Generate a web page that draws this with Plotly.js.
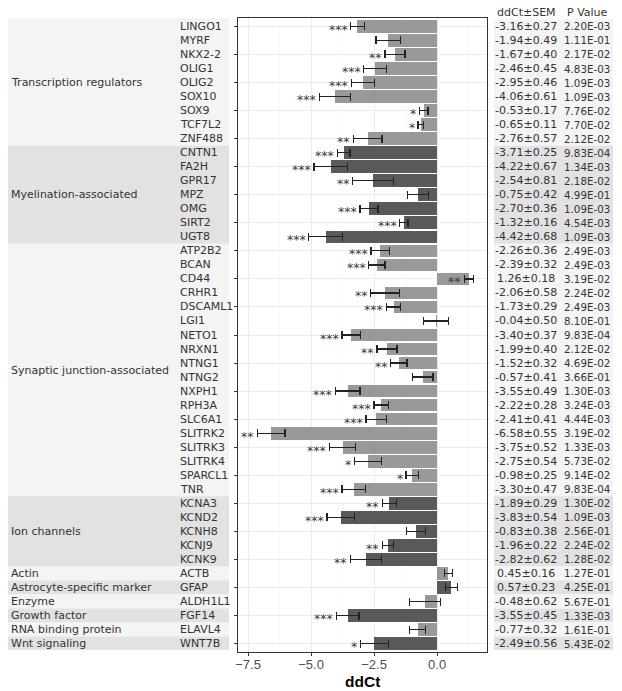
<!DOCTYPE html>
<html>
<head>
<meta charset="utf-8">
<script src="https://cdn.plot.ly/plotly-3.0.1.min.js"></script>
<style>body{margin:0;background:#fff}#chart{width:622px;height:691px}</style>
</head>
<body>
<div id="chart"></div>
<script>
// gene order, top to bottom
const genes = ["LINGO1","MYRF","NKX2-2","OLIG1","OLIG2","SOX10","SOX9","TCF7L2","ZNF488",
  "CNTN1","FA2H","GPR17","MPZ","OMG","SIRT2","UGT8",
  "ATP2B2","BCAN","CD44","CRHR1","DSCAML1","LGI1","NETO1","NRXN1","NTNG1","NTNG2","NXPH1","RPH3A","SLC6A1","SLITRK2","SLITRK3","SLITRK4","SPARCL1","TNR",
  "KCNA3","KCND2","KCNH8","KCNJ9","KCNK9",
  "ACTB","GFAP","ALDH1L1","FGF14","ELAVL4","WNT7B"];
const ddct = [-3.16,-1.94,-1.67,-2.46,-2.95,-4.06,-0.53,-0.65,-2.76,
  -3.71,-4.22,-2.54,-0.75,-2.70,-1.32,-4.42,
  -2.26,-2.39,1.26,-2.06,-1.73,-0.04,-3.40,-1.99,-1.52,-0.57,-3.55,-2.22,-2.41,-6.58,-3.75,-2.75,-0.98,-3.30,
  -1.89,-3.83,-0.83,-1.96,-2.82,
  0.45,0.57,-0.48,-3.55,-0.77,-2.49];
const sem = [0.27,0.49,0.40,0.45,0.46,0.61,0.17,0.11,0.57,
  0.25,0.67,0.81,0.42,0.36,0.16,0.68,
  0.36,0.32,0.18,0.58,0.29,0.50,0.37,0.40,0.32,0.41,0.49,0.28,0.41,0.55,0.52,0.54,0.25,0.47,
  0.29,0.54,0.38,0.22,0.62,
  0.16,0.23,0.62,0.45,0.32,0.56];
const pvals = ["2.20E-03","1.11E-01","2.17E-02","4.83E-03","1.09E-03","1.09E-03","7.76E-02","7.70E-02","2.12E-02",
  "9.83E-04","1.34E-03","2.18E-02","4.99E-01","1.09E-03","4.54E-03","1.09E-03",
  "2.49E-03","2.49E-03","3.19E-02","2.24E-02","2.49E-03","8.10E-01","9.83E-04","2.12E-02","4.69E-02","3.66E-01","1.30E-03","3.24E-03","4.44E-03","3.19E-02","1.33E-03","5.73E-02","9.14E-02","9.83E-04",
  "1.30E-02","1.09E-03","2.56E-01","2.24E-02","1.28E-02",
  "1.27E-01","4.25E-01","5.67E-01","1.33E-03","1.61E-01","5.43E-02"];
const stars = ["***","","**","***","***","***","*","*","**",
  "***","***","**","","***","***","***",
  "***","***","**","**","***","","***","**","**","","***","***","***","**","***","*","*","***",
  "**","***","","**","**",
  "","","","***","","*"];
const categories = ["Transcription regulators","Myelination-associated","Synaptic junction-associated","Ion channels",
  "Actin","Astrocyte-specific marker","Enzyme","Growth factor","RNA binding protein","Wnt signaling"];
const catSizes = [9,7,18,5,1,1,1,1,1,1];

const barLight = "#999999", barDark = "#595959";
const bandLight = "#f4f4f4", bandDark = "#e2e2e2";
const txt = "#333333";
const font = "DejaVu Sans";

// which category each gene belongs to
const catIdx = [];
catSizes.forEach((n, c) => { for (let i = 0; i < n; i++) catIdx.push(c); });
const barColors = catIdx.map(c => c % 2 ? barDark : barLight);

const shapes = [];
const annotations = [];
let start = 0;
categories.forEach((name, c) => {
  const end = start + catSizes[c] - 1;
  const fill = c % 2 ? bandDark : bandLight;
  const y0 = start === 0 ? -0.6 : start - 0.5;
  const y1 = end === genes.length - 1 ? end + 0.45 : end + 0.5;
  // left label band and right table band
  shapes.push({type: "rect", xref: "paper", yref: "y", x0: -0.924, x1: -0.036, y0: y0, y1: y1,
    fillcolor: fill, line: {width: 0}, layer: "below"});
  shapes.push({type: "rect", xref: "paper", yref: "y", x0: 1.028, x1: 1.506, y0: start - 0.5, y1: y1,
    fillcolor: fill, line: {width: 0}, layer: "below"});
  annotations.push({xref: "paper", yref: "y", x: -0.92, y: (start + end) / 2, text: name,
    xanchor: "left", yanchor: "middle", showarrow: false, font: {family: font, size: 11, color: txt}});
  start = end + 1;
});

genes.forEach((g, i) => {
  annotations.push({xref: "paper", yref: "y", x: -0.241, y: g, text: g, xanchor: "left", yanchor: "middle",
    showarrow: false, font: {family: font, size: 11, color: txt}});
  const v = ddct[i].toFixed(2) + "±" + sem[i].toFixed(2);
  annotations.push({xref: "paper", yref: "y", x: 1.157, y: g, text: v, xanchor: "center", yanchor: "middle",
    showarrow: false, font: {family: font, size: 11, color: txt}});
  annotations.push({xref: "paper", yref: "y", x: 1.402, y: g, text: pvals[i], xanchor: "center", yanchor: "middle",
    showarrow: false, font: {family: font, size: 10.3, color: txt}});
  if (stars[i]) {
    annotations.push({xref: "x", yref: "y", x: ddct[i] - sem[i], y: g, text: stars[i], xanchor: "right",
      yanchor: "middle", xshift: -1, yshift: -3, showarrow: false,
      font: {family: font, size: 12.5, color: "#3a3a3a"}});
  }
});

annotations.push({xref: "paper", yref: "paper", x: 1.157, y: 1.008, text: "ddCt±SEM", xanchor: "center",
  yanchor: "middle", showarrow: false, font: {family: font, size: 11, color: txt}});
annotations.push({xref: "paper", yref: "paper", x: 1.402, y: 1.008, text: "P Value", xanchor: "center",
  yanchor: "middle", showarrow: false, font: {family: font, size: 11, color: txt}});
// axis title
annotations.push({xref: "paper", yref: "paper", x: 0.5, y: -0.046, text: "<b>ddCt</b>", xanchor: "center",
  yanchor: "middle", showarrow: false, font: {family: "Liberation Sans", size: 15.5, color: "#000"}});

const trace = {
  type: "bar", orientation: "h", x: ddct, y: genes, width: 0.9,
  marker: {color: barColors, line: {width: 0}},
  error_x: {type: "data", array: sem, visible: true, color: "#222", thickness: 1.3, width: 4},
  hoverinfo: "x+y"
};

const layout = {
  width: 622, height: 691,
  margin: {l: 238, r: 135, t: 18, b: 39},
  paper_bgcolor: "#fff", plot_bgcolor: "#fff",
  showlegend: false,
  bargap: 0,
  xaxis: {
    range: [-7.9, 1.98], tick0: 0, dtick: 2.5, tickformat: ".1f",
    showgrid: true, gridcolor: "#ebebeb", gridwidth: 1,
    minor: {dtick: 1.25, showgrid: true, gridcolor: "#f3f3f3", gridwidth: 0.6},
    zeroline: false, showline: true, mirror: true, linecolor: "#333", linewidth: 1,
    ticks: "outside", ticklen: 3, tickcolor: "#333", ticklabelstandoff: -3,
    tickfont: {family: "Liberation Sans", size: 13, color: "#4d4d4d"}
  },
  yaxis: {
    type: "category", categoryorder: "array", categoryarray: genes,
    range: [genes.length - 0.4, -0.6],
    showticklabels: false, showgrid: true, gridcolor: "#ebebeb", gridwidth: 1,
    zeroline: false, showline: true, mirror: true, linecolor: "#333", linewidth: 1,
    ticks: "outside", ticklen: 3, tickcolor: "#333"
  },
  shapes: shapes,
  annotations: annotations
};

Plotly.newPlot("chart", [trace], layout, {displayModeBar: false, staticPlot: true});
</script>
</body>
</html>
